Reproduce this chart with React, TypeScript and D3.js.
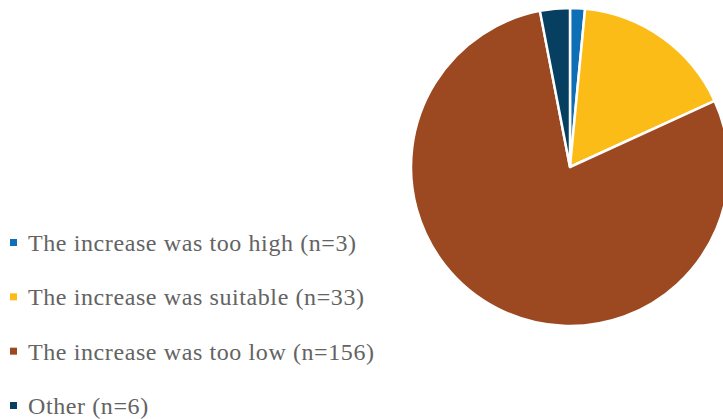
import React from "react";
import * as d3 from "d3";

const categories = [
  "The increase was too high (n=3)",
  "The increase was suitable (n=33)",
  "The increase was too low (n=156)",
  "Other (n=6)",
];
const values = [3, 33, 156, 6];
const colors = ["#0F6FB6", "#FBBC17", "#9C4921", "#063F60"];

export default function App() {
  const W = 723, H = 419;
  const cx = 570, cy = 167, r = 159;
  const pie = d3.pie<number>().sort(null).value((d) => d);
  const arcs = pie(values);
  const arc = d3.arc<d3.PieArcDatum<number>>().innerRadius(0).outerRadius(r);
  const legendY = d3.scalePoint<string>().domain(categories).range([251, 414]);
  return (
    <svg width={W} height={H} style={{ position: "absolute", left: 0, top: 0 }}>
      <g transform={`translate(${cx},${cy})`}>
        {arcs.map((a, i) => (
          <path key={i} d={arc(a) || ""} fill={colors[i]} stroke="#fff" strokeWidth={2.5} strokeLinejoin="round" />
        ))}
      </g>
      {categories.map((c, i) => (
        <g key={c}>
          <rect x={10} y={(legendY(c) as number) - 12} width={7} height={7} fill={colors[i]} />
          <text x={28} y={legendY(c)} fontFamily="Liberation Serif" fontSize={24} letterSpacing={0.6} fill="#636363">
            {c}
          </text>
        </g>
      ))}
    </svg>
  );
}
